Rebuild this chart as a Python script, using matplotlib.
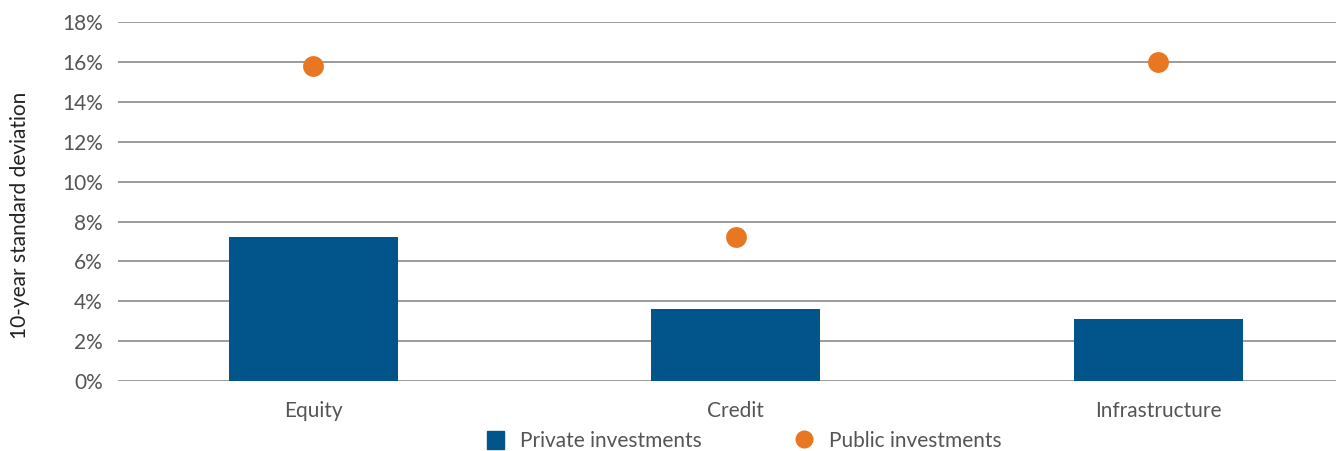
import matplotlib
matplotlib.use("Agg")
import matplotlib.pyplot as plt
from matplotlib.lines import Line2D
from matplotlib.patches import Patch
from matplotlib.ticker import FuncFormatter

plt.rcParams['font.family'] = ['Lato', 'DejaVu Sans']

categories = ["Equity", "Credit", "Infrastructure"]
private_vals = [7.2, 3.6, 3.1]
public_vals = [15.8, 7.2, 16.0]
yticks = [0, 2, 4, 6, 8, 10, 12, 14, 16, 18]

blue = "#02558a"
orange = "#e87722"
grey_txt = "#555555"

fig = plt.figure(figsize=(13.36, 4.51), dpi=100)
ax = fig.add_axes([0.0883, 0.155, 0.9117, 0.796])

x = range(len(categories))
ax.bar(x, private_vals, width=0.4, color=blue, zorder=3)
ax.plot(x, public_vals, linestyle="none", marker="o", markersize=15,
        color=orange, markeredgewidth=0, zorder=4)

ax.set_xlim(-0.462, 2.42)
ax.set_ylim(0, 18)
ax.set_yticks(yticks)
ax.yaxis.set_major_formatter(FuncFormatter(lambda v, p: f"{v:.0f}%"))
ax.set_xticks(list(x))
ax.set_xticklabels(categories)
ax.grid(axis="y", color="#8a8a8a", linewidth=1.2, zorder=0)
ax.set_axisbelow(True)
for s in ["top", "right", "left", "bottom"]:
    ax.spines[s].set_visible(False)
ax.tick_params(length=0, labelsize=15, labelcolor=grey_txt)
ax.tick_params(axis="y", pad=11)
ax.tick_params(axis="x", pad=14)
ax.set_ylabel("10-year standard deviation", fontsize=15, color="#222222")
ax.yaxis.set_label_coords(-0.072, 0.462)

handles = [Patch(color=blue, label="Private investments"),
           Line2D([], [], linestyle="none", marker="o", markersize=13,
                  color=orange, markeredgewidth=0, label="Public investments")]
fig.legend(handles=handles, loc="center", bbox_to_anchor=(0.557, 0.022), ncol=2,
           frameon=False, fontsize=15, labelcolor=grey_txt, handlelength=0.83,
           handleheight=0.9, columnspacing=4.5, handletextpad=0.77)

fig.savefig("out.png", dpi=100)
